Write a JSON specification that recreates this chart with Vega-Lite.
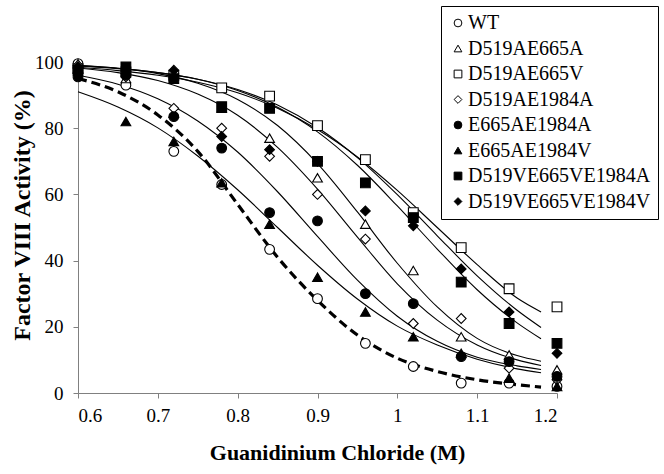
{
  "$schema": "https://vega.github.io/schema/vega-lite/v6.json",
  "autosize": "none",
  "width": 479,
  "height": 331,
  "padding": {"left": 78, "top": 62, "right": 107, "bottom": 81},
  "background": "white",
  "config": {
    "font": "Liberation Serif",
    "view": {"stroke": null},
    "axis": {
      "grid": false,
      "domainColor": "#808080",
      "tickColor": "#808080",
      "tickSize": 5,
      "labelFont": "Liberation Serif",
      "labelFontSize": 19,
      "labelColor": "black",
      "titleFont": "Liberation Serif",
      "titleFontWeight": "bold",
      "titleColor": "black"
    },
    "legend": {
      "orient": "none",
      "legendX": 363,
      "legendY": -56,
      "strokeColor": "black",
      "fillColor": "white",
      "padding": 7,
      "labelFont": "Liberation Serif",
      "labelFontSize": 20,
      "labelColor": "black",
      "labelLimit": 400,
      "symbolSize": 60,
      "symbolStrokeWidth": 1,
      "symbolOffset": 0,
      "rowPadding": 5.5,
      "labelOffset": 0
    }
  },
  "datasets": {
    "pts": [
      {"series": "WT", "gdn": 0.6, "activity": 99.5},
      {"series": "WT", "gdn": 0.66, "activity": 93},
      {"series": "WT", "gdn": 0.72, "activity": 73},
      {"series": "WT", "gdn": 0.78, "activity": 63},
      {"series": "WT", "gdn": 0.84, "activity": 43.4},
      {"series": "WT", "gdn": 0.9, "activity": 28.5},
      {"series": "WT", "gdn": 0.96, "activity": 15},
      {"series": "WT", "gdn": 1.02, "activity": 8},
      {"series": "WT", "gdn": 1.08, "activity": 3},
      {"series": "WT", "gdn": 1.14, "activity": 3},
      {"series": "WT", "gdn": 1.2, "activity": 2},
      {"series": "D519AE665A", "gdn": 0.6, "activity": 99.5},
      {"series": "D519AE665A", "gdn": 0.66, "activity": 95},
      {"series": "D519AE665A", "gdn": 0.72, "activity": 84.5},
      {"series": "D519AE665A", "gdn": 0.78, "activity": 86},
      {"series": "D519AE665A", "gdn": 0.84, "activity": 77},
      {"series": "D519AE665A", "gdn": 0.9, "activity": 65},
      {"series": "D519AE665A", "gdn": 0.96, "activity": 51},
      {"series": "D519AE665A", "gdn": 1.02, "activity": 37},
      {"series": "D519AE665A", "gdn": 1.08, "activity": 17},
      {"series": "D519AE665A", "gdn": 1.14, "activity": 11.5},
      {"series": "D519AE665A", "gdn": 1.2, "activity": 7},
      {"series": "D519AE665V", "gdn": 0.6, "activity": 98},
      {"series": "D519AE665V", "gdn": 0.66, "activity": 97},
      {"series": "D519AE665V", "gdn": 0.72, "activity": 96},
      {"series": "D519AE665V", "gdn": 0.78, "activity": 92.2},
      {"series": "D519AE665V", "gdn": 0.84, "activity": 89.7},
      {"series": "D519AE665V", "gdn": 0.9, "activity": 80.8},
      {"series": "D519AE665V", "gdn": 0.96, "activity": 70.5},
      {"series": "D519AE665V", "gdn": 1.02, "activity": 54.5},
      {"series": "D519AE665V", "gdn": 1.08, "activity": 43.9},
      {"series": "D519AE665V", "gdn": 1.14, "activity": 31.5},
      {"series": "D519AE665V", "gdn": 1.2, "activity": 26},
      {"series": "D519AE1984A", "gdn": 0.6, "activity": 99},
      {"series": "D519AE1984A", "gdn": 0.66, "activity": 95.5},
      {"series": "D519AE1984A", "gdn": 0.72, "activity": 86},
      {"series": "D519AE1984A", "gdn": 0.78, "activity": 80},
      {"series": "D519AE1984A", "gdn": 0.84, "activity": 71.5},
      {"series": "D519AE1984A", "gdn": 0.9, "activity": 60},
      {"series": "D519AE1984A", "gdn": 0.96, "activity": 46.5},
      {"series": "D519AE1984A", "gdn": 1.02, "activity": 21},
      {"series": "D519AE1984A", "gdn": 1.08, "activity": 22.5},
      {"series": "D519AE1984A", "gdn": 1.14, "activity": 7.5},
      {"series": "D519AE1984A", "gdn": 1.2, "activity": 4},
      {"series": "E665AE1984A", "gdn": 0.6, "activity": 95.5},
      {"series": "E665AE1984A", "gdn": 0.66, "activity": 96},
      {"series": "E665AE1984A", "gdn": 0.72, "activity": 83.5},
      {"series": "E665AE1984A", "gdn": 0.78, "activity": 74},
      {"series": "E665AE1984A", "gdn": 0.84, "activity": 54.5},
      {"series": "E665AE1984A", "gdn": 0.9, "activity": 52},
      {"series": "E665AE1984A", "gdn": 0.96, "activity": 30},
      {"series": "E665AE1984A", "gdn": 1.02, "activity": 27},
      {"series": "E665AE1984A", "gdn": 1.08, "activity": 11},
      {"series": "E665AE1984A", "gdn": 1.14, "activity": 9.5},
      {"series": "E665AE1984A", "gdn": 1.2, "activity": 5},
      {"series": "E665AE1984V", "gdn": 0.6, "activity": 98},
      {"series": "E665AE1984V", "gdn": 0.66, "activity": 82},
      {"series": "E665AE1984V", "gdn": 0.72, "activity": 76},
      {"series": "E665AE1984V", "gdn": 0.78, "activity": 63.5},
      {"series": "E665AE1984V", "gdn": 0.84, "activity": 51},
      {"series": "E665AE1984V", "gdn": 0.9, "activity": 35},
      {"series": "E665AE1984V", "gdn": 0.96, "activity": 24.5},
      {"series": "E665AE1984V", "gdn": 1.02, "activity": 17},
      {"series": "E665AE1984V", "gdn": 1.08, "activity": 12},
      {"series": "E665AE1984V", "gdn": 1.14, "activity": 4.5},
      {"series": "E665AE1984V", "gdn": 1.2, "activity": 2},
      {"series": "D519VE665VE1984A", "gdn": 0.6, "activity": 97.5},
      {"series": "D519VE665VE1984A", "gdn": 0.66, "activity": 98.5},
      {"series": "D519VE665VE1984A", "gdn": 0.72, "activity": 95},
      {"series": "D519VE665VE1984A", "gdn": 0.78, "activity": 86.5},
      {"series": "D519VE665VE1984A", "gdn": 0.84, "activity": 86},
      {"series": "D519VE665VE1984A", "gdn": 0.9, "activity": 70},
      {"series": "D519VE665VE1984A", "gdn": 0.96, "activity": 63.5},
      {"series": "D519VE665VE1984A", "gdn": 1.02, "activity": 53},
      {"series": "D519VE665VE1984A", "gdn": 1.08, "activity": 33.5},
      {"series": "D519VE665VE1984A", "gdn": 1.14, "activity": 21},
      {"series": "D519VE665VE1984A", "gdn": 1.2, "activity": 15},
      {"series": "D519VE665VE1984V", "gdn": 0.6, "activity": 98.5},
      {"series": "D519VE665VE1984V", "gdn": 0.66, "activity": 96.5},
      {"series": "D519VE665VE1984V", "gdn": 0.72, "activity": 97.5},
      {"series": "D519VE665VE1984V", "gdn": 0.78, "activity": 77.5},
      {"series": "D519VE665VE1984V", "gdn": 0.84, "activity": 73.5},
      {"series": "D519VE665VE1984V", "gdn": 0.9, "activity": 70},
      {"series": "D519VE665VE1984V", "gdn": 0.96, "activity": 55},
      {"series": "D519VE665VE1984V", "gdn": 1.02, "activity": 50.5},
      {"series": "D519VE665VE1984V", "gdn": 1.08, "activity": 37.5},
      {"series": "D519VE665VE1984V", "gdn": 1.14, "activity": 24.5},
      {"series": "D519VE665VE1984V", "gdn": 1.2, "activity": 12}
    ],
    "curves": [
      {"series": "WT", "gdn": 0.6, "activity": 95},
      {"series": "WT", "gdn": 0.65, "activity": 91},
      {"series": "WT", "gdn": 0.7, "activity": 84},
      {"series": "WT", "gdn": 0.75, "activity": 73},
      {"series": "WT", "gdn": 0.8, "activity": 57},
      {"series": "WT", "gdn": 0.85, "activity": 41},
      {"series": "WT", "gdn": 0.9, "activity": 28},
      {"series": "WT", "gdn": 0.95, "activity": 17.5},
      {"series": "WT", "gdn": 1.0, "activity": 10.5},
      {"series": "WT", "gdn": 1.05, "activity": 6.5},
      {"series": "WT", "gdn": 1.1, "activity": 4},
      {"series": "WT", "gdn": 1.15, "activity": 2.5},
      {"series": "WT", "gdn": 1.18, "activity": 1.8},
      {"series": "E665AE1984V", "gdn": 0.6, "activity": 91},
      {"series": "E665AE1984V", "gdn": 0.65, "activity": 86.4},
      {"series": "E665AE1984V", "gdn": 0.7, "activity": 80.1},
      {"series": "E665AE1984V", "gdn": 0.75, "activity": 71.6},
      {"series": "E665AE1984V", "gdn": 0.8, "activity": 61.4},
      {"series": "E665AE1984V", "gdn": 0.85, "activity": 50},
      {"series": "E665AE1984V", "gdn": 0.9, "activity": 38.6},
      {"series": "E665AE1984V", "gdn": 0.95, "activity": 28.4},
      {"series": "E665AE1984V", "gdn": 1.0, "activity": 20.2},
      {"series": "E665AE1984V", "gdn": 1.05, "activity": 14.5},
      {"series": "E665AE1984V", "gdn": 1.1, "activity": 10.2},
      {"series": "E665AE1984V", "gdn": 1.15, "activity": 7.3},
      {"series": "E665AE1984V", "gdn": 1.18, "activity": 6.1},
      {"series": "E665AE1984A", "gdn": 0.6, "activity": 96},
      {"series": "E665AE1984A", "gdn": 0.65, "activity": 93.3},
      {"series": "E665AE1984A", "gdn": 0.7, "activity": 88.9},
      {"series": "E665AE1984A", "gdn": 0.75, "activity": 82.2},
      {"series": "E665AE1984A", "gdn": 0.8, "activity": 72.8},
      {"series": "E665AE1984A", "gdn": 0.85, "activity": 60.8},
      {"series": "E665AE1984A", "gdn": 0.9, "activity": 47.3},
      {"series": "E665AE1984A", "gdn": 0.95, "activity": 34.1},
      {"series": "E665AE1984A", "gdn": 1.0, "activity": 23.2},
      {"series": "E665AE1984A", "gdn": 1.05, "activity": 15.6},
      {"series": "E665AE1984A", "gdn": 1.1, "activity": 10.8},
      {"series": "E665AE1984A", "gdn": 1.15, "activity": 8.2},
      {"series": "E665AE1984A", "gdn": 1.18, "activity": 7.1},
      {"series": "D519AE1984A", "gdn": 0.6, "activity": 98.2},
      {"series": "D519AE1984A", "gdn": 0.65, "activity": 96.8},
      {"series": "D519AE1984A", "gdn": 0.7, "activity": 94.4},
      {"series": "D519AE1984A", "gdn": 0.75, "activity": 90.3},
      {"series": "D519AE1984A", "gdn": 0.8, "activity": 83.9},
      {"series": "D519AE1984A", "gdn": 0.85, "activity": 74.2},
      {"series": "D519AE1984A", "gdn": 0.9, "activity": 61.6},
      {"series": "D519AE1984A", "gdn": 0.95, "activity": 47.1},
      {"series": "D519AE1984A", "gdn": 1.0, "activity": 33},
      {"series": "D519AE1984A", "gdn": 1.05, "activity": 22},
      {"series": "D519AE1984A", "gdn": 1.1, "activity": 14.5},
      {"series": "D519AE1984A", "gdn": 1.15, "activity": 10},
      {"series": "D519AE1984A", "gdn": 1.18, "activity": 8.3},
      {"series": "D519AE665A", "gdn": 0.6, "activity": 99},
      {"series": "D519AE665A", "gdn": 0.65, "activity": 98.1},
      {"series": "D519AE665A", "gdn": 0.7, "activity": 96.5},
      {"series": "D519AE665A", "gdn": 0.75, "activity": 93.6},
      {"series": "D519AE665A", "gdn": 0.8, "activity": 88.7},
      {"series": "D519AE665A", "gdn": 0.85, "activity": 80.8},
      {"series": "D519AE665A", "gdn": 0.9, "activity": 69.3},
      {"series": "D519AE665A", "gdn": 0.95, "activity": 54.7},
      {"series": "D519AE665A", "gdn": 1.0, "activity": 39.2},
      {"series": "D519AE665A", "gdn": 1.05, "activity": 26},
      {"series": "D519AE665A", "gdn": 1.1, "activity": 16.5},
      {"series": "D519AE665A", "gdn": 1.15, "activity": 11.3},
      {"series": "D519AE665A", "gdn": 1.18, "activity": 9.6},
      {"series": "D519VE665VE1984V", "gdn": 0.6, "activity": 98.8},
      {"series": "D519VE665VE1984V", "gdn": 0.65, "activity": 98},
      {"series": "D519VE665VE1984V", "gdn": 0.7, "activity": 96.8},
      {"series": "D519VE665VE1984V", "gdn": 0.75, "activity": 94.8},
      {"series": "D519VE665VE1984V", "gdn": 0.8, "activity": 91.7},
      {"series": "D519VE665VE1984V", "gdn": 0.85, "activity": 87},
      {"series": "D519VE665VE1984V", "gdn": 0.9, "activity": 80.2},
      {"series": "D519VE665VE1984V", "gdn": 0.95, "activity": 71.1},
      {"series": "D519VE665VE1984V", "gdn": 1.0, "activity": 59.9},
      {"series": "D519VE665VE1984V", "gdn": 1.05, "activity": 47.5},
      {"series": "D519VE665VE1984V", "gdn": 1.1, "activity": 35.4},
      {"series": "D519VE665VE1984V", "gdn": 1.15, "activity": 25},
      {"series": "D519VE665VE1984V", "gdn": 1.18, "activity": 19.8},
      {"series": "D519VE665VE1984A", "gdn": 0.6, "activity": 98.9},
      {"series": "D519VE665VE1984A", "gdn": 0.65, "activity": 98.1},
      {"series": "D519VE665VE1984A", "gdn": 0.7, "activity": 96.8},
      {"series": "D519VE665VE1984A", "gdn": 0.75, "activity": 94.8},
      {"series": "D519VE665VE1984A", "gdn": 0.8, "activity": 91.4},
      {"series": "D519VE665VE1984A", "gdn": 0.85, "activity": 86.3},
      {"series": "D519VE665VE1984A", "gdn": 0.9, "activity": 78.9},
      {"series": "D519VE665VE1984A", "gdn": 0.95, "activity": 68.8},
      {"series": "D519VE665VE1984A", "gdn": 1.0, "activity": 56.5},
      {"series": "D519VE665VE1984A", "gdn": 1.05, "activity": 43.5},
      {"series": "D519VE665VE1984A", "gdn": 1.1, "activity": 31.2},
      {"series": "D519VE665VE1984A", "gdn": 1.15, "activity": 21.2},
      {"series": "D519VE665VE1984A", "gdn": 1.18, "activity": 16.4},
      {"series": "D519AE665V", "gdn": 0.6, "activity": 98.4},
      {"series": "D519AE665V", "gdn": 0.65, "activity": 97.4},
      {"series": "D519AE665V", "gdn": 0.7, "activity": 96},
      {"series": "D519AE665V", "gdn": 0.75, "activity": 93.9},
      {"series": "D519AE665V", "gdn": 0.8, "activity": 90.7},
      {"series": "D519AE665V", "gdn": 0.85, "activity": 86},
      {"series": "D519AE665V", "gdn": 0.9, "activity": 79.6},
      {"series": "D519AE665V", "gdn": 0.95, "activity": 71.3},
      {"series": "D519AE665V", "gdn": 1.0, "activity": 61.2},
      {"series": "D519AE665V", "gdn": 1.05, "activity": 50},
      {"series": "D519AE665V", "gdn": 1.1, "activity": 38.8},
      {"series": "D519AE665V", "gdn": 1.15, "activity": 28.7},
      {"series": "D519AE665V", "gdn": 1.18, "activity": 24.5}
    ]
  },
  "layer": [
    {
      "data": {"name": "curves"},
      "transform": [{"filter": "datum.series !== 'WT'"}],
      "mark": {"type": "line", "interpolate": "monotone", "color": "black", "strokeWidth": 1.1},
      "encoding": {
        "x": {"field": "gdn", "type": "quantitative", "scale": {"domain": [0.6, 1.2]}},
        "y": {"field": "activity", "type": "quantitative", "scale": {"domain": [0, 100]}},
        "detail": {"field": "series"}
      }
    },
    {
      "data": {"name": "curves"},
      "transform": [{"filter": "datum.series === 'WT'"}],
      "mark": {"type": "line", "interpolate": "monotone", "color": "black", "strokeWidth": 3.2, "strokeDash": [9, 5]},
      "encoding": {
        "x": {"field": "gdn", "type": "quantitative"},
        "y": {"field": "activity", "type": "quantitative"}
      }
    },
    {
      "data": {"name": "pts"},
      "mark": {"type": "point", "filled": false, "strokeWidth": 1.1, "size": 95, "opacity": 1},
      "encoding": {
        "x": {
          "field": "gdn", "type": "quantitative",
          "scale": {"domain": [0.6, 1.2]},
          "axis": {"values": [0.6, 0.7, 0.8, 0.9, 1.0, 1.1, 1.2], "format": "~g", "labelPadding": 8, "title": "Guanidinium Chloride (M)", "titleFontSize": 22, "titlePadding": 17, "titleX": 259}
        },
        "y": {
          "field": "activity", "type": "quantitative",
          "scale": {"domain": [0, 100]},
          "axis": {"values": [0, 20, 40, 60, 80, 100], "labelPadding": 10, "title": "Factor VIII Activity (%)", "titleFontSize": 24, "titlePadding": 0, "titleY": 153}
        },
        "shape": {
          "field": "series", "type": "nominal",
          "legend": {"title": null},
          "scale": {
            "domain": ["WT", "D519AE665A", "D519AE665V", "D519AE1984A", "E665AE1984A", "E665AE1984V", "D519VE665VE1984A", "D519VE665VE1984V"],
            "range": ["circle", "triangle-up", "square", "diamond", "circle", "triangle-up", "square", "diamond"]
          }
        },
        "fill": {
          "field": "series", "type": "nominal",
          "legend": {"title": null},
          "scale": {
            "domain": ["WT", "D519AE665A", "D519AE665V", "D519AE1984A", "E665AE1984A", "E665AE1984V", "D519VE665VE1984A", "D519VE665VE1984V"],
            "range": ["white", "white", "white", "white", "black", "black", "black", "black"]
          }
        },
        "stroke": {
          "field": "series", "type": "nominal",
          "legend": {"title": null},
          "scale": {
            "domain": ["WT", "D519AE665A", "D519AE665V", "D519AE1984A", "E665AE1984A", "E665AE1984V", "D519VE665VE1984A", "D519VE665VE1984V"],
            "range": ["black", "black", "black", "black", "black", "black", "black", "black"]
          }
        }
      }
    }
  ]
}
